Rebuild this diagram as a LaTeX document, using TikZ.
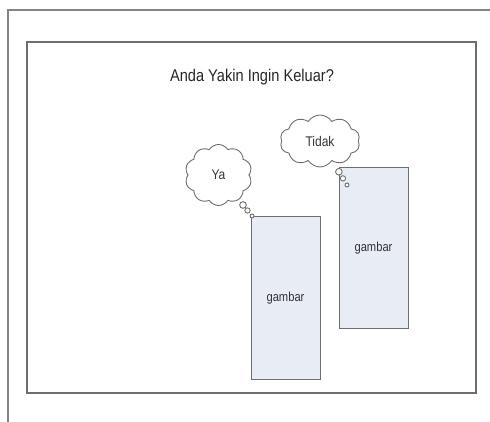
\documentclass[tikz,border=0pt]{standalone}
\usepackage{fontspec}
\usepackage{graphicx}
\setmainfont{Liberation Sans}
\usetikzlibrary{shapes.symbols,shapes.callouts}
\definecolor{picfill}{HTML}{E8ECF5}
\definecolor{edgegray}{HTML}{6E6E6E}
\newcommand{\narrowtext}[1]{\scalebox{0.86}[1]{#1}}
\begin{document}
\begin{tikzpicture}[x=1pt,y=-1pt,
  frame/.style={draw=edgegray!85,line width=1.3pt},
  dialog/.style={draw=edgegray,line width=1.1pt},
  panel/.style={draw=edgegray,line width=1pt,fill=picfill,inner sep=0pt,
    font=\fontsize{13}{15}\selectfont,text=black!80},
  thought/.style={cloud callout,draw=edgegray,line width=0.9pt,fill=white,
    cloud puffs=10,cloud puff arc=115,cloud ignores aspect,inner sep=0pt,
    callout pointer segments=3,
    callout pointer start size=8pt,callout pointer end size=4pt,
    font=\fontsize{14}{16}\selectfont,text=black!80},
  title/.style={font=\fontsize{17}{19}\selectfont,text=black!85,inner sep=0pt}]
  \useasboundingbox (0,0) rectangle (490,422);

  % window frame, cut off at the right and bottom
  \draw[frame] (490,10) -- (8,10) -- (8,422);

  % dialog area
  \draw[dialog] (27,42) rectangle (476,393);

  \node[title] (question) at (252,77) {\narrowtext{Anda Yakin Ingin Keluar?}};

  % picture placeholders
  \node[panel,minimum width=69pt,minimum height=162pt] (picYa) at (285.5,298) {\narrowtext{gambar}};
  \node[panel,minimum width=69pt,minimum height=160pt] (picTidak) at (373.5,248) {\narrowtext{gambar}};

  % thought bubbles pointing at the pictures
  \coordinate (tipYa) at (252,216);
  \coordinate (tipTidak) at (347,185);
  \node[thought,minimum width=67pt,minimum height=61pt,
    callout absolute pointer={(tipYa)}] (ya) at (218.5,175) {\narrowtext{Ya}};
  \node[thought,minimum width=80pt,minimum height=52pt,
    callout absolute pointer={(tipTidak)}] (tidak) at (320,141) {\narrowtext{Tidak}};
\end{tikzpicture}
\end{document}
